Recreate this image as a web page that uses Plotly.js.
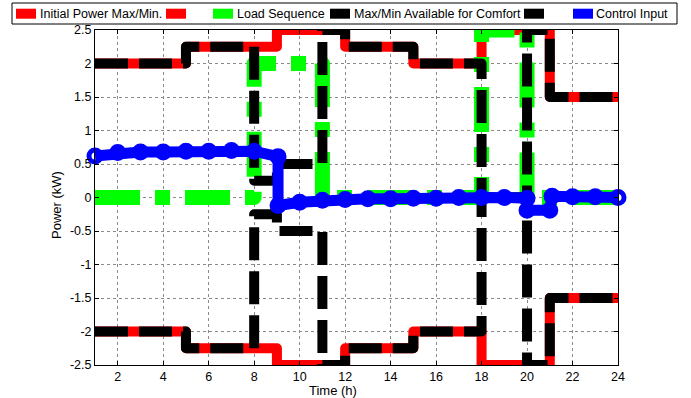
<!DOCTYPE html>
<html>
<head>
<meta charset="utf-8">
<script src="https://cdn.plot.ly/plotly-3.0.1.min.js"></script>
<style>
html,body{margin:0;padding:0;background:#fff;}
#chart{width:691px;height:398px;}
#chart path.js-line{stroke-linejoin:round !important;}
</style>
</head>
<body>
<div id="chart"></div>
<script>
// ---- data ----
const hours = [1,2,3,4,5,6,7,8,9,10,11,12,13,14,15,16,17,18,19,20,21,22,23,24];
const initialMax = [2,2,2,2,2.25,2.25,2.25,2.25,2.5,2.5,2.5,2.25,2.25,2.25,2,2,2,2.5,2.5,2.5,1.5,1.5,1.5,1.5];
const initialMin = [-2,-2,-2,-2,-2.25,-2.25,-2.25,-2.25,-2.5,-2.5,-2.5,-2.25,-2.25,-2.25,-2,-2,-2,-2.5,-2.5,-2.5,-1.5,-1.5,-1.5,-1.5];
const loadSequence = [0,0,0,0,0,0,0,2,2,2,0,0,0,0,0,0,0,2.5,2.5,0,0,0,0,0];
const comfortMax = [2,2,2,2,2.25,2.25,2.25,0.25,0.5,0.5,2.5,2.25,2.25,2.25,2,2,2,0,0,2.5,1.5,1.5,1.5,1.5];
const comfortMin = [-2,-2,-2,-2,-2.25,-2.25,-2.25,-0.25,-0.5,-0.5,-2.5,-2.25,-2.25,-2.25,-2,-2,-2,0,0,-2.5,-1.5,-1.5,-1.5,-1.5];
const controlTime = [1,2,3,4,5,6,7,8,9.05,9.05,10,11,12,13,14,15,16,17,18,19,20,20,21,21.1,22,23,24];
const controlInput = [0.62,0.67,0.68,0.68,0.69,0.69,0.70,0.69,0.61,-0.12,-0.07,-0.04,-0.03,-0.02,-0.02,-0.01,-0.01,0,0,0,-0.01,-0.19,-0.19,0.02,0.01,0.01,0];
const xTickVals = [2,4,6,8,10,12,14,16,18,20,22,24];
const yTickVals = [-2.5,-2,-1.5,-1,-0.5,0,0.5,1,1.5,2,2.5];
const yTickText = ['-2.5','-2','-1.5','-1','-0.5','0','0.5','1','1.5','2','2.5'];
const legendLabels = ['Initial Power Max/Min.', '', 'Load Sequence', 'Max/Min Available for Comfort', '', 'Control Input'];
const legendColors = ['#ff0000', '#ff0000', '#00ff00', '#000000', '#000000', '#0000ff'];
const xTitle = 'Time (h)';
const yTitle = 'Power (kW)';

// ---- layout geometry (pixels) ----
const W = 691, H = 398;
const L = 95, R = 618, T = 30, B = 365;
const pw = R - L, ph = B - T;
const px = x => (x - L) / pw;
const py = y => (B - y) / ph;

const FONT = 'Liberation Sans, Arial, Helvetica, sans-serif';

const traces = [
  {x: hours, y: initialMax, mode: 'lines', line: {shape: 'hv', color: legendColors[0], width: 10}, name: legendLabels[0], showlegend: false},
  {x: hours, y: initialMin, mode: 'lines', line: {shape: 'hv', color: legendColors[1], width: 10}, name: legendLabels[1], showlegend: false},
  {x: hours, y: loadSequence, mode: 'lines', line: {shape: 'hv', color: legendColors[2], width: 15, dash: 'dashdot'}, name: legendLabels[2], showlegend: false},
  {x: hours, y: comfortMax, mode: 'lines', line: {shape: 'hv', color: legendColors[3], width: 10, dash: '33px,11px'}, name: legendLabels[3], showlegend: false},
  {x: hours, y: comfortMin, mode: 'lines', line: {shape: 'hv', color: legendColors[4], width: 10, dash: '33px,11px'}, name: legendLabels[4], showlegend: false},
  {x: controlTime, y: controlInput, mode: 'lines+markers', line: {color: legendColors[5], width: 11},
   marker: {symbol: 'circle-open', size: 12, color: legendColors[5], line: {width: 5, color: legendColors[5]}},
   cliponaxis: false, name: legendLabels[5], showlegend: false}
];

// ---- manual legend (MATLAB style) ----
const shapes = [
  {type: 'rect', xref: 'paper', yref: 'paper', x0: px(12), x1: px(677), y0: py(24), y1: py(3),
   fillcolor: '#ffffff', line: {color: '#000000', width: 1}, layer: 'above'}
];
const annotations = [];
const swatchX = [16, 166, 213, 330, 524, 573];
const labelX = [39, null, 236, 353, null, 595];
for (let i = 0; i < legendLabels.length; i++) {
  shapes.push({type: 'rect', xref: 'paper', yref: 'paper', x0: px(swatchX[i]), x1: px(swatchX[i] + 20),
    y0: py(18.7), y1: py(8.7), fillcolor: legendColors[i], line: {width: 0}, layer: 'above'});
  if (legendLabels[i]) {
    annotations.push({xref: 'paper', yref: 'paper', x: px(labelX[i]), y: py(14), xanchor: 'left', yanchor: 'middle',
      text: legendLabels[i], showarrow: false, font: {family: FONT, size: 12.5, color: '#000'}, borderpad: 0});
  }
}
annotations.push({xref: 'paper', yref: 'paper', x: px(333), y: py(390), xanchor: 'center', yanchor: 'middle',
  text: xTitle, showarrow: false, borderpad: 0, font: {family: FONT, size: 13, color: '#000'}});
annotations.push({xref: 'paper', yref: 'paper', x: px(57), y: py(205), xanchor: 'center', yanchor: 'middle',
  text: yTitle, textangle: -90, showarrow: false, borderpad: 0, font: {family: FONT, size: 13, color: '#000'}});

const axisCommon = {
  showline: true, linecolor: '#000', linewidth: 1, mirror: 'ticks',
  ticks: 'inside', ticklen: 4, tickcolor: '#000', tickwidth: 1,
  showgrid: true, gridcolor: '#8a8a8a', griddash: 'dot', gridwidth: 1,
  zeroline: false, tickfont: {family: FONT, size: 12.5, color: '#000'}, fixedrange: true
};

const layout = {
  width: W, height: H,
  margin: {l: L, r: W - R, t: T, b: H - B, pad: 0},
  paper_bgcolor: '#ffffff', plot_bgcolor: '#ffffff',
  showlegend: false,
  xaxis: Object.assign({}, axisCommon, {range: [1, 24], tickmode: 'array', tickvals: xTickVals}),
  yaxis: Object.assign({}, axisCommon, {range: [-2.5, 2.5], tickmode: 'array', tickvals: yTickVals, ticktext: yTickText}),
  shapes: shapes,
  annotations: annotations,
  font: {family: FONT, color: '#000'}
};

Plotly.newPlot('chart', traces, layout, {displayModeBar: false, staticPlot: true});
</script>
</body>
</html>
